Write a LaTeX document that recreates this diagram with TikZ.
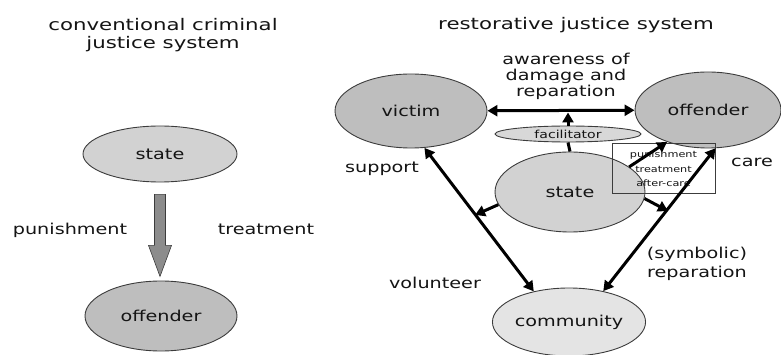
\documentclass[tikz,border=0pt]{standalone}
\usepackage{fontspec}
\usetikzlibrary{arrows.meta,calc,shapes.geometric}
\newfontfamily\labfont[FakeStretch=1.28]{DejaVu Sans}
\newfontfamily\ttlfont[FakeStretch=1.33]{DejaVu Sans}
\definecolor{darkfill}{RGB}{190,190,190}
\definecolor{midfill}{RGB}{210,210,210}
\definecolor{lightfill}{RGB}{228,228,228}
\definecolor{facfill}{RGB}{216,216,216}
\definecolor{edgegray}{RGB}{60,60,60}
\definecolor{txt}{RGB}{20,20,20}
\definecolor{blockfill}{RGB}{140,140,140}
\begin{document}
\begin{tikzpicture}[x=1pt,y=-1pt,
  ell/.style={ellipse,draw=edgegray,line width=0.9pt,inner sep=0pt,text=txt,
    font=\labfont\fontsize{15}{17}\selectfont},
  lab/.style={text=txt,inner sep=0pt,align=center,font=\labfont\fontsize{15}{17}\selectfont},
  ttl/.style={text=txt,inner sep=0pt,align=center,font=\ttlfont\fontsize{16}{18}\selectfont},
  conn/.style={line width=3pt,black,
    >={Triangle[length=10pt,width=11pt]}},
  blockarrow/.style={fill=blockfill,draw=edgegray,line width=0.6pt},
  boxnode/.style={draw=edgegray,line width=1pt,inner sep=0pt,minimum width=103pt,
    minimum height=50pt,text=txt,align=center,
    font=\labfont\fontsize{8.8}{14.5}\selectfont}
]
\useasboundingbox (0,0) rectangle (781,355);

% left side
\node[ttl] (t1) at (163,35) {conventional criminal\\justice system};
\node[ell,fill=midfill,minimum width=154pt,minimum height=56pt] (s1) at (160,154) {state};
\node[ell,fill=darkfill,minimum width=152pt,minimum height=70pt] (o1) at (161,316) {offender};
\node[lab,anchor=base] (pun) at (70,235) {punishment};
\node[lab,anchor=base] (trt) at (266,235) {treatment};
\draw[blockarrow] ($(s1.south)+(-5.5,12)$) -- ($(s1.south)+(5.5,12)$) -- ($(s1.south)+(5.5,63)$)
  -- ($(s1.south)+(11.5,63)$) -- ($(s1.south)+(0,94)$) -- ($(s1.south)+(-11.5,63)$)
  -- ($(s1.south)+(-5.5,63)$) -- cycle;

% right side
\node[ttl,anchor=base] (t2) at (576,30) {restorative justice system};
\node[ell,fill=darkfill,minimum width=152pt,minimum height=74pt] (victim) at (411,111) {victim};
\node[ell,fill=darkfill,minimum width=146pt,minimum height=76pt] (o2) at (708,110) {offender};
\node[ell,fill=facfill,minimum width=146pt,minimum height=16pt,
  font=\labfont\fontsize{11}{13}\selectfont] (fac) at (568,134) {facilitator};
\node[ell,fill=midfill,minimum width=150pt,minimum height=80pt] (s2) at (570,192) {state};
\node[ell,fill=lightfill,minimum width=152pt,minimum height=68pt] (comm) at (569,322) {community};
\node[boxnode] (bx) at (663.5,169) {punishment\\treatment\\after-care};

\node[lab] (aw) at (566,76) {awareness of\\[-1pt]damage and\\[-1pt]reparation};
\node[lab,anchor=base] (sup) at (382,173) {support};
\node[lab,anchor=base] (care) at (752,167) {care};
\node[lab,anchor=base] (vol) at (435,288) {volunteer};
\node[lab,anchor=base] (sym) at (697,277) {(symbolic)\\[2pt]reparation};

\coordinate (mid) at (fac.north |- victim.east);
\coordinate (lt) at (475,215);
\coordinate (rt) at (668,211);

\draw[conn,<->] (victim) -- (o2);
\draw[conn,->,shorten >=1.5pt] (fac.north) -- (mid);
\draw[conn] (s2.north) -- (fac.south);
\draw[conn,<->] (victim.-70) -- (comm.139);
\draw[conn,<->] (o2.-79) -- (comm.42);
\draw[conn,->] (s2.23) -- (o2.218);
\draw[conn,->] (s2.190) -- (lt);
\draw[conn,->] (s2.-5) -- (rt);
\end{tikzpicture}
\end{document}
